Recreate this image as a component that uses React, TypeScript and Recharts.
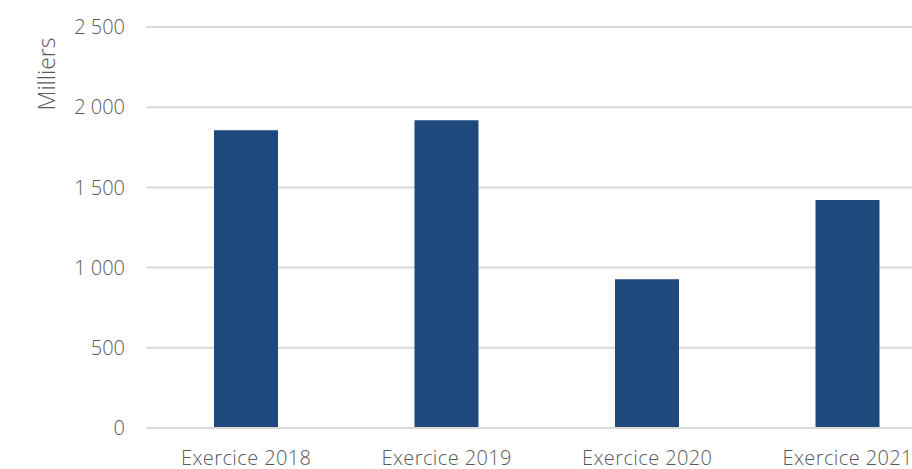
import { Bar, BarChart, CartesianGrid, Label, XAxis, YAxis } from "recharts";

const categories = ["Exercice 2018", "Exercice 2019", "Exercice 2020", "Exercice 2021"];
const values = [1856, 1918, 928, 1422];
const yTicks = [0, 500, 1000, 1500, 2000, 2500];

const data = categories.map((name, i) => ({ name, value: values[i] }));

const textColor = "#595959";
const gridColor = "#d9d9d9";
const font = "'Open Sans', Lato, sans-serif";

const formatTick = (v: number) => v.toLocaleString("fr-FR").replace(/\s/g, " ");

export default function App() {
  return (
    <div style={{ position: "absolute", left: 0, top: 0, width: 912, height: 469, overflow: "hidden", background: "#fff" }}>
      <BarChart
        width={948}
        height={469}
        data={data}
        margin={{ top: 27, right: 0, bottom: 0, left: 0 }}
        style={{ fontFamily: font }}
      >
        <CartesianGrid stroke={gridColor} strokeWidth={2} vertical={false} />
        <XAxis
          dataKey="name"
          height={41}
          axisLine={{ stroke: gridColor, strokeWidth: 2 }}
          tickLine={false}
          tickSize={0}
          tickMargin={23}
          tick={{ fill: textColor, fontSize: 20, fontWeight: 300, letterSpacing: 0.4 }}
          interval={0}
        />
        <YAxis
          width={146}
          domain={[0, 2500]}
          ticks={yTicks}
          axisLine={false}
          tickLine={false}
          tickSize={0}
          tickMargin={21}
          tickFormatter={formatTick}
          tick={{ fill: textColor, fontSize: 20, fontWeight: 300 }}
        >
          <Label
            content={() => (
              <text
                x={0}
                y={0}
                transform="translate(55 74) rotate(-90)"
                textAnchor="middle"
                fill={textColor}
                fontSize={23}
                fontWeight={300}
                fontFamily={font}
              >
                Milliers
              </text>
            )}
          />
        </YAxis>
        <Bar dataKey="value" fill="#1F497D" barSize={64} isAnimationActive={false} />
      </BarChart>
    </div>
  );
}
